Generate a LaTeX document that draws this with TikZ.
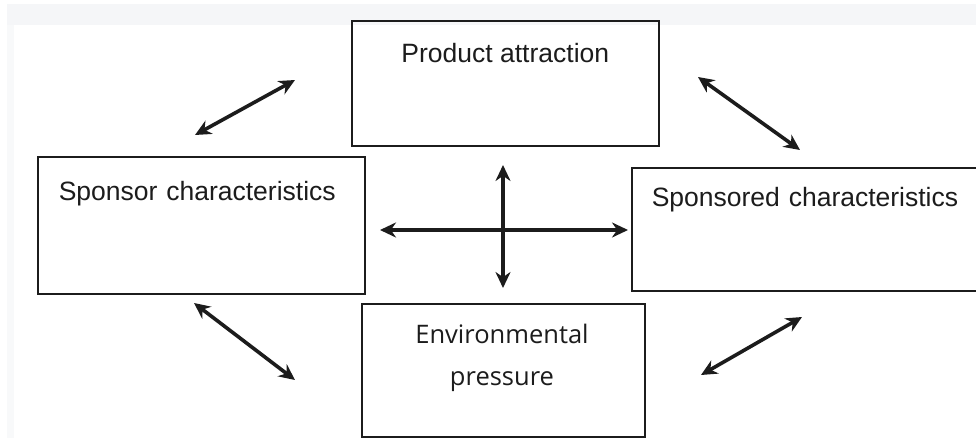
\documentclass[tikz,border=0pt]{standalone}
\usepackage{fontspec}
\setmainfont{Liberation Sans}
\newfontfamily\envfont{Open Sans}
\usetikzlibrary{arrows.meta}

\definecolor{inkgray}{HTML}{1C1C1C}
\definecolor{bandgray}{HTML}{F5F6F8}

\begin{document}
\begin{tikzpicture}[
        x=1pt, y=-1pt,
        box/.style={draw=inkgray, line width=1.6pt, rectangle, inner sep=0pt, anchor=north west,
            text=inkgray, font=\fontsize{26.5pt}{32pt}\selectfont},
        envtext/.style={text=inkgray, inner sep=0pt, align=center,
            font=\envfont\fontsize{25.5pt}{42pt}\selectfont},
        twoway/.style={{Stealth[length=16pt,width=15pt]}-{Stealth[length=16pt,width=15pt]},
            line width=3.6pt, draw=inkgray},
    ]
    \clip (0,0) rectangle (976,438);
    \fill[white] (0,0) rectangle (976,438);
    \fill[bandgray] (7,4) rectangle (976,25);
    \fill[bandgray!70] (7,25) rectangle (14,438);

    \node[box, minimum width=307pt, text height=42pt, text depth=83pt] (product) at (351,20) {Product attraction};
    \node[box, text width=285pt, inner xsep=21pt, align=left, text height=44pt, text depth=93pt] (sponsor) at (37,156) {Sponsor characteristics};
    \node[box, text width=340pt, inner xsep=20pt, align=left, text height=39pt, text depth=84pt] (sponsored) at (631,167) {Sponsored characteristics};
    \node[box, minimum width=283pt, minimum height=133pt] (env) at (361,303) {};
    \node[envtext, anchor=north] (envlabel) at (502,324) {Environmental\\pressure};

    % free ends of the double arrows
    \coordinate (tl-a) at (195,135);
    \coordinate (tl-b) at (295,80);
    \coordinate (tr-a) at (698,77);
    \coordinate (tr-b) at (800,150);
    \coordinate (bl-a) at (194,303);
    \coordinate (bl-b) at (295,380);
    \coordinate (br-a) at (701,375);
    \coordinate (br-b) at (802,317);
    \coordinate (mid-l) at (380,230);
    \coordinate (mid-r) at (628,230);
    \coordinate (mid-t) at (503,165);
    \coordinate (mid-b) at (503,288);

    \draw[twoway] (tl-a) -- (tl-b);
    \draw[twoway] (tr-a) -- (tr-b);
    \draw[twoway] (bl-a) -- (bl-b);
    \draw[twoway] (br-a) -- (br-b);
    \draw[twoway] (mid-l) -- (mid-r);
    \draw[twoway] (mid-t) -- (mid-b);

\end{tikzpicture}
\end{document}
